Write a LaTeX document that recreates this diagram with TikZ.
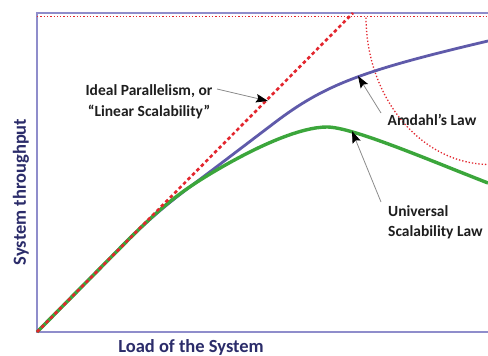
\documentclass[tikz,border=0pt]{standalone}
\usepackage{fontspec}
\setmainfont{Carlito}
\usetikzlibrary{arrows.meta}

\definecolor{framecol}{HTML}{8F8DCB}
\definecolor{amdahlcol}{HTML}{5F5AAA}
\definecolor{uslcol}{HTML}{3BA63B}
\definecolor{idealcol}{HTML}{E3262E}
\definecolor{axistext}{HTML}{2B2C6A}
\definecolor{notetext}{HTML}{1E1E1E}
\definecolor{leadercol}{HTML}{8C8C8C}

\tikzset{
  frameline/.style={draw=framecol, line width=1.6pt},
  idealline/.style={draw=idealcol, line width=2.6pt, dash pattern=on 3.5pt off 2.8pt},
  limitline/.style={draw=idealcol, line width=1.3pt, dash pattern=on 1.3pt off 2pt},
  amdahlline/.style={draw=amdahlcol, line width=2.8pt, line join=round},
  uslline/.style={draw=uslcol, line width=3.4pt, line join=round},
  axislabel/.style={font=\bfseries\fontsize{18.5}{22}\selectfont, text=axistext, inner sep=0pt},
  notelabel/.style={font=\bfseries\fontsize{15.5}{20.5}\selectfont, text=notetext, inner sep=0pt},
  leader/.style={draw=leadercol, line width=0.8pt,
    -{Stealth[length=12pt, width=8.5pt, inset=2pt, fill=black, color=black]}},
}

\begin{document}
\begin{tikzpicture}[x=1pt, y=-1pt]
  \useasboundingbox (0,0) rectangle (488,356);
  \fill[white] (0,0) rectangle (488,356);

  % plot frame (top, left and bottom edges)
  \draw[frameline] (488,13) -- (37,13) -- (37,332) -- (488,332);

  % dotted ceiling and limiting arc
  \draw[limitline] (37,16.5) -- (488,16.5);
  \begin{scope}
    \clip (37,16.5) rectangle (488,332);
    \draw[limitline] (490,16.5) ellipse [x radius=124, y radius=148];
  \end{scope}

  \coordinate (origin) at (37,332);
  \coordinate (split) at (125,243.1);

  % Amdahl's law curve
  \draw[amdahlline] (origin) -- (split)
    .. controls (160,207.8) and (185,190.8) .. (215,168)
    -- (275,122.4)
    .. controls (325,84.5) and (363,70.4) .. (488,41);

  % Universal Scalability Law curve
  \draw[uslline] (origin) -- (split)
    .. controls (160,207.8) and (180,192) .. (210,174)
    .. controls (260,144) and (302,127) .. (327,127)
    .. controls (352,127) and (428,159.6) .. (488,183);

  % ideal linear scaling
  \coordinate (idealtop) at (353,13);
  \draw[idealline] (origin) -- (idealtop);

  % annotations
  \node[notelabel, align=center, anchor=north] (ideal) at (149,84.5)
    {Ideal Parallelism, or\\“Linear Scalability”};
  \node[notelabel] (amdahl) at (432,120) {Amdahl’s Law};
  \node[notelabel, align=left, anchor=north west] (usl) at (388,205)
    {Universal\\Scalability Law};

  \coordinate (idealtail) at (217,89);
  \coordinate (idealtip) at (268,101);
  \coordinate (amdahltail) at (381,113);
  \coordinate (amdahltip) at (358,76);
  \coordinate (usltail) at (381,202);
  \coordinate (usltip) at (352,131);
  \draw[leader] (idealtail) -- (idealtip);
  \draw[leader] (amdahltail) -- (amdahltip);
  \draw[leader] (usltail) -- (usltip);

  % axis titles
  \node[axislabel, rotate=90] (ylabel) at (21,192) {System throughput};
  \node[axislabel, anchor=base] (xlabel) at (191,352) {Load of the System};
\end{tikzpicture}
\end{document}
